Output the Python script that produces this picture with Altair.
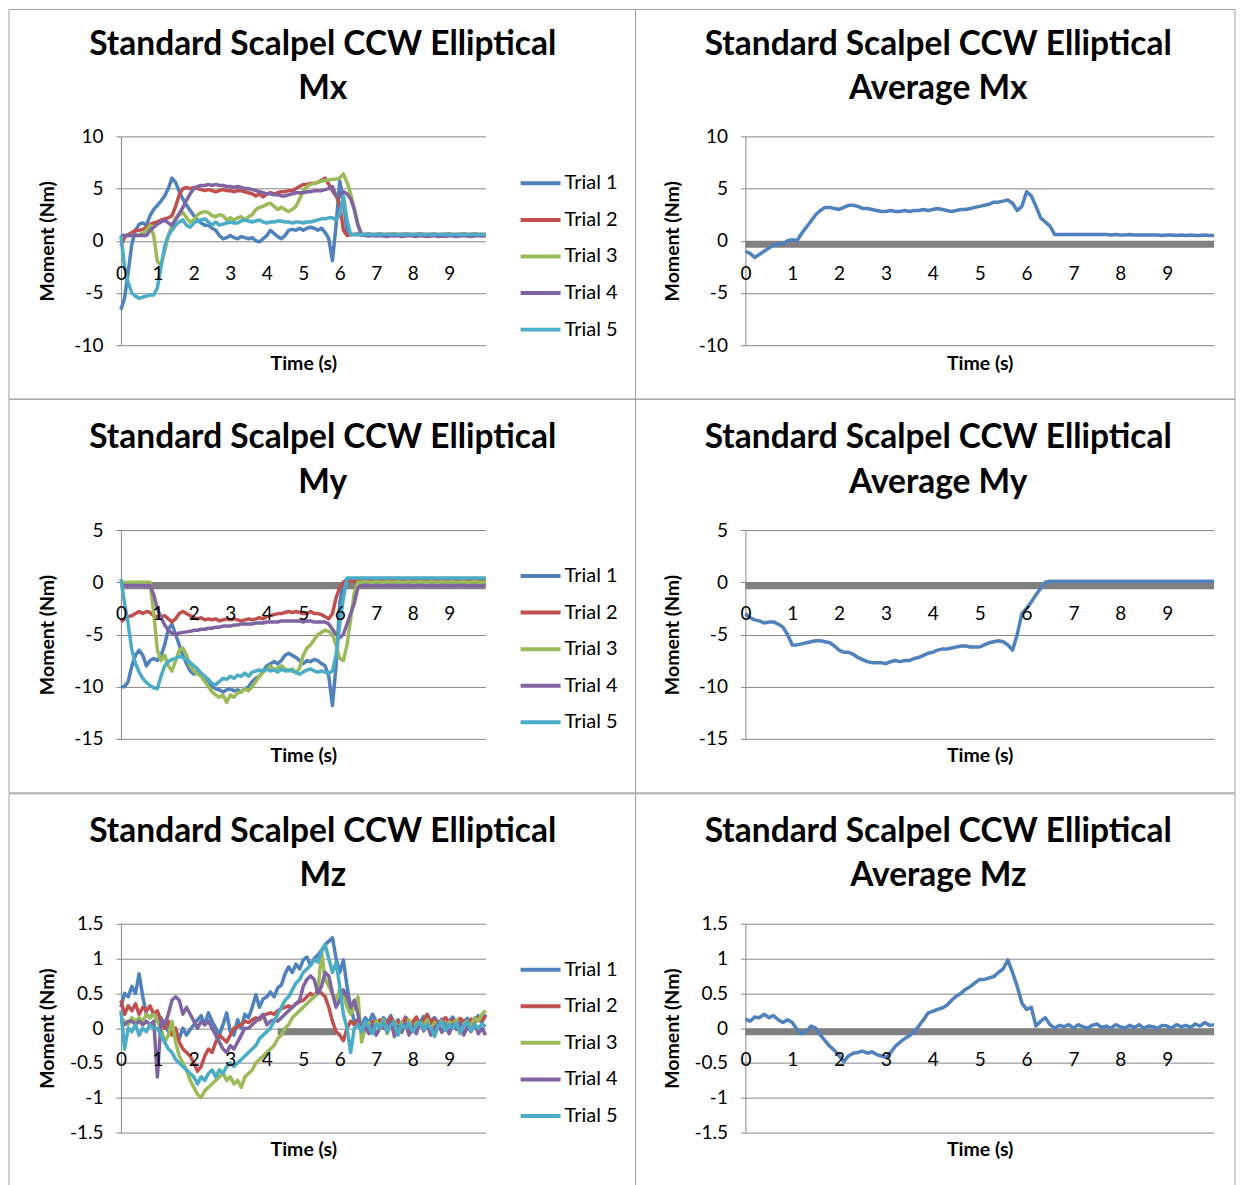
import altair as alt
import pandas as pd

FONT = "Lato"
GRID = "#868686"
BORDER = "#a0a0a0"
TRIALS = ["Trial 1", "Trial 2", "Trial 3", "Trial 4", "Trial 5"]
COLORS = ["#4F81BD", "#C0504D", "#9BBB59", "#8064A2", "#4BACC6"]
XTICKS = [0, 1, 2, 3, 4, 5, 6, 7, 8, 9]
TIME = [round(i * 0.1, 1) for i in range(101)]

# ---------------- Mx ----------------
MX_T1 = [-6.6, -5.5, -3.0, -0.3, 1.0, 1.6, 1.7, 1.5, 2.4, 3.0,
         3.4, 3.8, 4.3, 5.0, 6.0, 5.6, 4.7, 4.0, 3.4, 2.9,
         2.4, 2.0, 1.7, 1.5, 1.5, 1.2, 1.0, 0.5, 0.2, 0.3,
         0.5, 0.3, 0.2, 0.4, 0.3, 0.2, 0.3, 0.0, -0.1, 0.2,
         0.5, 1.0, 0.7, 0.4, 0.2, 0.5, 1.0, 1.1, 1.0, 1.2,
         1.0, 1.2, 1.3, 1.2, 1.0, 1.2, 0.8, 0.2, -1.9, 1.5,
         5.7, 4.0, 0.8, 0.6, 0.6, 0.6, 0.55, 0.6, 0.6, 0.55,
         0.6, 0.6, 0.55, 0.6, 0.6, 0.6, 0.55, 0.6, 0.6, 0.6,
         0.55, 0.6, 0.6, 0.6, 0.55, 0.6, 0.6, 0.55, 0.6, 0.6,
         0.6, 0.55, 0.6, 0.6, 0.6, 0.55, 0.6, 0.6, 0.6, 0.55,
         0.6]
MX_T2 = [-0.5, 0.3, 0.6, 0.8, 1.0, 1.0, 1.1, 1.3, 1.6, 1.7,
         1.8, 2.0, 2.1, 2.2, 2.4, 3.3, 4.4, 5.0, 5.1, 5.0,
         5.1, 5.0, 4.9, 4.8, 4.9, 4.8, 4.7, 4.8, 4.9, 4.8,
         4.8, 4.7, 4.8, 4.8, 4.7, 4.6, 4.5, 4.3, 4.5, 4.2,
         4.5, 4.6, 4.5, 4.6, 4.7, 4.7, 4.8, 4.8, 5.0, 5.2,
         5.4, 5.4, 5.5, 5.5, 5.6, 5.8, 6.0, 5.4, 4.8, 4.3,
         3.5, 1.0, 0.5, 0.6, 0.6, 0.65, 0.6, 0.6, 0.65, 0.6,
         0.6, 0.65, 0.6, 0.6, 0.6, 0.65, 0.6, 0.6, 0.65, 0.6,
         0.6, 0.6, 0.65, 0.6, 0.6, 0.6, 0.65, 0.6, 0.6, 0.6,
         0.65, 0.6, 0.6, 0.6, 0.65, 0.6, 0.6, 0.65, 0.6, 0.6,
         0.6]
MX_T3 = [0.5, 0.5, 0.5, 0.5, 0.5, 0.6, 0.7, 1.0, 1.5, 0.5,
         -2.0, -2.3, -1.0, 0.5, 1.5, 2.2, 2.5, 2.7, 2.2, 1.8,
         2.0, 2.5, 2.7, 2.8, 2.7, 2.4, 2.3, 2.5, 2.4, 2.0,
         2.2, 2.0, 2.2, 2.3, 2.0, 2.3, 2.5, 3.0, 3.2, 3.3,
         3.5, 3.6, 3.3, 3.0, 3.2, 3.0, 2.8, 3.0, 3.3, 4.0,
         4.8, 5.2, 5.4, 5.5, 5.6, 5.7, 5.8, 5.8, 5.9, 5.9,
         6.0, 6.4, 5.6, 4.5, 3.0, 1.5, 0.6, 0.6, 0.6, 0.55,
         0.6, 0.6, 0.6, 0.55, 0.6, 0.6, 0.6, 0.6, 0.55, 0.6,
         0.6, 0.6, 0.55, 0.6, 0.6, 0.6, 0.6, 0.55, 0.6, 0.6,
         0.6, 0.55, 0.6, 0.6, 0.6, 0.6, 0.55, 0.6, 0.6, 0.6,
         0.6]
MX_T4 = [0.5, 0.5, 0.5, 0.5, 0.5, 0.5, 0.5, 0.5, 1.0, 1.3,
         1.6, 1.8, 2.0, 1.7, 1.5, 2.0, 2.6, 3.2, 3.9, 4.5,
         5.0, 5.2, 5.3, 5.3, 5.4, 5.3, 5.4, 5.3, 5.3, 5.2,
         5.2, 5.1, 5.2, 5.1, 5.0, 5.0, 4.9, 4.8, 4.7, 4.6,
         4.5, 4.5, 4.4, 4.4, 4.3, 4.3, 4.4, 4.5, 4.6, 4.6,
         4.6, 4.7, 4.7, 4.8, 4.8, 4.8, 4.9, 5.0, 5.2, 4.3,
         4.2, 4.7, 4.5, 4.0, 3.0, 1.5, 0.6, 0.5, 0.45, 0.5,
         0.45, 0.5, 0.45, 0.4, 0.5, 0.45, 0.5, 0.4, 0.45, 0.5,
         0.45, 0.4, 0.5, 0.45, 0.4, 0.45, 0.5, 0.4, 0.45, 0.4,
         0.5, 0.45, 0.4, 0.45, 0.5, 0.45, 0.4, 0.45, 0.5, 0.45,
         0.45]
MX_T5 = [0.5, -2.5, -4.0, -5.0, -5.3, -5.5, -5.4, -5.3, -5.2, -5.2,
         -4.5, -2.5, -0.5, 0.5, 1.0, 1.5, 1.8, 2.0, 1.5, 1.3,
         1.7, 1.9, 2.0, 2.1, 1.8, 1.5, 1.8, 1.5, 1.6, 1.7,
         1.8, 1.7, 1.7, 1.9, 2.0, 1.9, 1.8, 1.9, 2.0, 1.8,
         1.7, 1.8, 1.8, 1.9, 1.9, 1.8, 1.8, 1.7, 1.8, 1.8,
         1.7, 1.8, 1.8, 1.9, 2.0, 2.1, 2.1, 2.2, 2.2, 2.0,
         2.5, 4.3, 2.0, 0.6, 0.6, 0.6, 0.6, 0.6, 0.6, 0.6,
         0.6, 0.6, 0.6, 0.6, 0.6, 0.6, 0.6, 0.6, 0.6, 0.6,
         0.6, 0.6, 0.6, 0.6, 0.6, 0.6, 0.6, 0.6, 0.6, 0.6,
         0.6, 0.6, 0.6, 0.6, 0.6, 0.6, 0.6, 0.6, 0.6, 0.6,
         0.6]
MX_AVG = [-1.0, -1.2, -1.6, -1.3, -1.0, -0.7, -0.4, -0.3, -0.3, 0.0,
          0.1, 0.0, 0.7, 1.3, 1.9, 2.5, 2.9, 3.2, 3.2, 3.1,
          3.0, 3.2, 3.4, 3.4, 3.3, 3.1, 3.1, 3.0, 2.9, 2.8,
          2.8, 2.9, 2.8, 2.8, 2.9, 2.8, 2.9, 2.9, 3.0, 2.9,
          3.0, 3.1, 3.0, 2.9, 2.8, 2.9, 3.0, 3.0, 3.1, 3.2,
          3.3, 3.4, 3.5, 3.7, 3.7, 3.8, 3.9, 3.6, 2.9, 3.3,
          4.7, 4.3, 3.3, 2.2, 1.8, 1.4, 0.6, 0.6, 0.6, 0.6,
          0.6, 0.6, 0.6, 0.6, 0.6, 0.6, 0.6, 0.6, 0.55, 0.6,
          0.55, 0.55, 0.6, 0.55, 0.55, 0.55, 0.55, 0.55, 0.55, 0.5,
          0.55, 0.55, 0.5, 0.55, 0.5, 0.55, 0.5, 0.5, 0.55, 0.5,
          0.5]

# ---------------- My ----------------
MY_T1 = [-10.0, -10.0, -9.5, -8.0, -7.0, -6.5, -7.0, -8.0, -7.5, -7.3,
         -7.5, -7.0, -6.0, -4.5, -4.0, -5.0, -6.0, -7.0, -7.8, -8.5,
         -8.8, -8.5, -9.0, -9.3, -9.5, -10.0, -10.2, -10.3, -10.5, -10.3,
         -10.2, -10.4, -10.3, -10.5, -10.2, -10.0, -9.5, -9.2, -9.0, -8.5,
         -8.0, -7.8, -7.6, -7.8, -7.5, -7.0, -6.8, -7.0, -7.2, -7.5,
         -7.8, -7.5, -7.6, -7.4, -7.5, -7.8, -8.0, -9.0, -11.8, -8.0,
         -2.0, 0.0, 0.3, 0.3, 0.3, 0.3, 0.3, 0.3, 0.3, 0.3,
         0.3, 0.3, 0.3, 0.3, 0.3, 0.3, 0.3, 0.3, 0.3, 0.3,
         0.3, 0.3, 0.3, 0.3, 0.3, 0.3, 0.3, 0.3, 0.3, 0.3,
         0.3, 0.3, 0.3, 0.3, 0.3, 0.3, 0.3, 0.3, 0.3, 0.3,
         0.3]
MY_T2 = [-3.8, -3.5, -3.3, -3.2, -3.0, -2.8, -3.0, -2.8, -2.9, -3.2,
         -3.3, -3.3, -3.2, -3.5, -3.8, -3.5, -3.0, -2.8, -3.0, -3.2,
         -3.4, -3.5, -3.4, -3.6, -3.5, -3.6, -3.5, -3.7, -3.6, -3.5,
         -3.6, -3.5, -3.6, -3.7, -3.6, -3.5, -3.6, -3.5, -3.4, -3.5,
         -3.3, -3.2, -3.1, -3.0, -3.0, -2.9, -2.8, -2.9, -2.8, -2.9,
         -3.0, -3.0, -2.8, -3.0, -3.0, -3.1, -3.3, -3.5, -3.0, -1.5,
         -0.5, 0.0, 0.15, 0.15, 0.1, 0.15, 0.15, 0.1, 0.15, 0.15,
         0.1, 0.15, 0.15, 0.1, 0.15, 0.15, 0.1, 0.15, 0.15, 0.1,
         0.15, 0.15, 0.1, 0.15, 0.15, 0.1, 0.15, 0.15, 0.1, 0.15,
         0.15, 0.1, 0.15, 0.15, 0.1, 0.15, 0.15, 0.2, 0.15, 0.2,
         0.2]
MY_T3 = [0.0, 0.0, 0.0, 0.0, 0.0, 0.0, 0.0, 0.0, 0.0, -3.0,
         -6.5, -7.5, -7.0, -8.0, -8.5, -7.5, -6.5, -6.3, -7.0, -8.0,
         -8.5, -8.8, -9.0, -9.5, -10.0, -10.5, -10.8, -11.0, -10.8, -11.5,
         -10.8, -11.0, -10.6, -10.5, -10.2, -10.4, -10.0, -9.5, -9.0, -8.6,
         -8.3, -8.0, -8.4, -8.2, -8.0, -8.3, -8.5, -8.3, -8.7, -8.2,
         -7.0, -6.3, -6.0, -5.5, -5.0, -4.8, -4.6, -4.7, -5.0, -6.0,
         -7.3, -7.5, -6.0, -3.5, -1.0, 0.0, 0.0, 0.05, 0.0, 0.0,
         0.05, 0.0, 0.0, 0.05, 0.0, 0.0, 0.05, 0.0, 0.0, 0.05,
         0.0, 0.0, 0.05, 0.0, 0.0, 0.05, 0.0, 0.0, 0.05, 0.0,
         0.0, 0.05, 0.0, 0.0, 0.05, 0.0, 0.0, 0.05, 0.0, 0.0,
         0.0]
MY_T4 = [-0.3, -0.3, -0.3, -0.3, -0.3, -0.3, -0.3, -0.3, -0.3, -1.2,
         -2.5, -3.4, -4.1, -4.6, -4.9, -5.0, -4.85, -4.8, -4.75, -4.7,
         -4.6, -4.6, -4.5, -4.5, -4.4, -4.4, -4.3, -4.3, -4.2, -4.2,
         -4.2, -4.1, -4.1, -4.0, -4.0, -4.0, -4.0, -3.9, -3.9, -3.9,
         -3.8, -3.8, -3.8, -3.8, -3.7, -3.7, -3.7, -3.7, -3.7, -3.7,
         -3.8, -3.7, -3.7, -3.8, -3.8, -3.8, -3.8, -4.0, -4.5, -5.0,
         -5.3, -5.0, -4.0, -3.0, -2.0, -0.5, -0.3, -0.3, -0.3, -0.35,
         -0.3, -0.3, -0.35, -0.3, -0.3, -0.3, -0.35, -0.3, -0.3, -0.3,
         -0.35, -0.3, -0.3, -0.3, -0.35, -0.3, -0.3, -0.35, -0.3, -0.3,
         -0.3, -0.35, -0.3, -0.3, -0.3, -0.35, -0.3, -0.3, -0.35, -0.3,
         -0.3]
MY_T5 = [0.3, -2.0, -4.0, -6.5, -7.8, -8.6, -9.2, -9.6, -9.9, -10.1,
         -10.2, -9.0, -8.0, -7.6, -7.4, -7.3, -7.1, -7.2, -7.4, -7.7,
         -8.0, -8.3, -8.7, -9.0, -9.3, -9.7, -9.8, -9.5, -9.2, -9.3,
         -9.0, -9.2, -8.9, -9.0, -8.7, -9.0, -8.6, -8.5, -8.4, -8.5,
         -8.3, -8.5, -8.4, -8.6, -8.3, -8.5, -8.4, -8.5, -8.6, -8.8,
         -8.6, -8.4, -8.3, -8.5, -8.6, -8.5, -8.6, -8.7, -8.5, -7.0,
         -4.0, -1.5, 0.4, 0.4, 0.4, 0.4, 0.4, 0.4, 0.4, 0.4,
         0.4, 0.4, 0.4, 0.4, 0.4, 0.4, 0.4, 0.4, 0.4, 0.4,
         0.4, 0.4, 0.4, 0.4, 0.4, 0.4, 0.4, 0.4, 0.4, 0.4,
         0.4, 0.4, 0.4, 0.4, 0.4, 0.4, 0.4, 0.4, 0.4, 0.4,
         0.4]
MY_AVG = [-3.0, -3.4, -3.6, -3.7, -3.9, -3.8, -3.8, -4.0, -4.3, -5.0,
          -6.0, -6.0, -5.9, -5.8, -5.7, -5.6, -5.6, -5.7, -5.8, -6.1,
          -6.5, -6.7, -6.7, -6.9, -7.2, -7.4, -7.6, -7.7, -7.7, -7.7,
          -7.8, -7.6, -7.5, -7.6, -7.5, -7.5, -7.3, -7.2, -7.0, -6.8,
          -6.7, -6.5, -6.4, -6.4, -6.3, -6.2, -6.1, -6.1, -6.2, -6.2,
          -6.2, -6.0, -5.8, -5.7, -5.6, -5.7, -6.0, -6.5, -5.0, -3.0,
          -2.5, -1.9, -1.2, -0.6, 0.0, 0.1, 0.1, 0.1, 0.1, 0.1,
          0.1, 0.1, 0.1, 0.1, 0.1, 0.1, 0.1, 0.1, 0.1, 0.1,
          0.1, 0.1, 0.1, 0.1, 0.1, 0.1, 0.1, 0.1, 0.1, 0.1,
          0.1, 0.1, 0.1, 0.1, 0.1, 0.1, 0.1, 0.1, 0.1, 0.1,
          0.1]

# ---------------- Mz ----------------
MZ_T1 = [0.3, 0.5, 0.45, 0.6, 0.5, 0.78, 0.45, 0.2, 0.15, 0.22,
         0.1, 0.15, 0.05, -0.05, 0.02, -0.1, -0.15, 0.0, -0.1, -0.02,
         0.05, 0.12, 0.18, 0.05, 0.22, 0.1, 0.0, -0.1, 0.05, 0.22,
         -0.05, -0.1, 0.12, 0.0, 0.2, 0.15, 0.3, 0.48, 0.3, 0.42,
         0.45, 0.52, 0.45, 0.58, 0.62, 0.78, 0.88, 0.8, 0.92, 0.85,
         0.98, 1.02, 0.9, 1.0, 1.05, 1.12, 1.2, 1.25, 1.3, 1.0,
         0.8, 0.98, 0.6, 0.3, 0.1, 0.12, 0.05, 0.15, 0.08, 0.2,
         0.1, 0.04, 0.15, 0.09, 0.18, 0.06, 0.12, 0.02, 0.16, 0.1,
         0.05, 0.14, 0.08, 0.17, 0.03, 0.11, 0.15, 0.07, 0.13, 0.04,
         0.1, 0.16, 0.06, 0.12, 0.09, 0.14, 0.05, 0.11, 0.18, 0.08,
         0.2]
MZ_T2 = [0.4, 0.2, 0.32, 0.25, 0.35, 0.2, 0.3, 0.25, 0.32, 0.2,
         0.25, 0.1, 0.0, 0.1, -0.1, 0.0, -0.2, -0.3, -0.35, -0.4,
         -0.5, -0.62, -0.55, -0.4, -0.3, -0.35, -0.2, -0.1, -0.15, -0.2,
         -0.1, 0.0, 0.02, 0.05, 0.1, 0.08, 0.12, 0.15, 0.12, 0.18,
         0.2, 0.22, 0.2, 0.25, 0.28, 0.3, 0.32, 0.3, 0.35, 0.38,
         0.4, 0.45, 0.5, 0.45, 0.55, 0.5, 0.45, 0.3, 0.1, -0.05,
         -0.1, -0.18, 0.0, 0.1, 0.05, 0.12, 0.02, 0.08, -0.05, 0.1,
         0.05, 0.12, 0.0, 0.08, 0.15, 0.03, 0.1, 0.06, 0.14, 0.02,
         0.09, 0.16, 0.05, 0.11, 0.2, 0.07, 0.13, 0.04, 0.1, 0.15,
         0.08, 0.12, 0.05, 0.14, 0.1, 0.06, 0.13, 0.09, 0.15, 0.11,
         0.18]
MZ_T3 = [0.15, 0.1, 0.05, 0.15, 0.1, 0.15, 0.1, 0.2, 0.15, 0.2,
         0.1, 0.0, -0.2, -0.1, 0.1, -0.2, -0.4, -0.5, -0.6, -0.75,
         -0.85, -0.95, -1.0, -0.9, -0.85, -0.8, -0.75, -0.7, -0.65, -0.75,
         -0.7, -0.8, -0.75, -0.85, -0.7, -0.65, -0.6, -0.5, -0.45, -0.4,
         -0.35, -0.3, -0.25, -0.15, -0.1, 0.0, 0.05, 0.15, 0.2, 0.25,
         0.3, 0.35, 0.4, 0.45, 0.5, 1.1, 0.7, 0.6, 0.5, 0.4,
         0.55, 0.5, 0.3, 0.2, 0.3, 0.45, -0.2, 0.0, 0.08, -0.05,
         0.1, 0.02, 0.12, -0.08, 0.06, 0.1, -0.02, 0.08, 0.0, 0.12,
         -0.05, 0.07, 0.1, 0.03, 0.12, -0.06, 0.08, 0.05, 0.1, -0.02,
         0.09, 0.04, 0.12, -0.08, 0.06, 0.1, 0.02, 0.15, 0.1, 0.2,
         0.25]
MZ_T4 = [0.1, 0.05, 0.1, 0.1, 0.05, 0.1, 0.05, 0.1, 0.05, 0.1,
         -0.7, 0.1, 0.05, 0.2, 0.4, 0.45, 0.4, 0.2, 0.3, 0.2,
         0.1, 0.0, 0.1, 0.05, 0.1, 0.0, -0.1, -0.2, -0.3, -0.35,
         -0.25, -0.3, -0.2, -0.1, 0.0, 0.0, 0.05, 0.1, 0.15, 0.2,
         0.05, 0.1, 0.12, 0.1, 0.15, 0.2, 0.25, 0.3, 0.35, 0.4,
         0.6, 0.7, 0.75, 0.7, 0.5, 0.6, 0.8, 0.75, 0.5, 0.3,
         0.4, 0.55, 0.45, 0.3, 0.4, 0.2, -0.05, 0.02, -0.08, 0.05,
         -0.1, 0.0, 0.06, -0.05, 0.1, -0.12, 0.03, -0.06, 0.08, -0.1,
         0.02, -0.08, 0.1, -0.04, 0.05, -0.1, 0.0, 0.07, -0.06, 0.03,
         -0.08, 0.05, -0.02, 0.08, -0.1, 0.02, -0.05, 0.06, -0.08, 0.0,
         -0.1]
MZ_T5 = [0.25, -0.3, 0.0, -0.05, 0.05, -0.1, 0.0, -0.05, 0.05, 0.0,
         0.0, -0.1, -0.2, -0.3, -0.35, -0.45, -0.5, -0.55, -0.6, -0.65,
         -0.7, -0.8, -0.7, -0.75, -0.65, -0.6, -0.7, -0.6, -0.65, -0.55,
         -0.5, -0.55, -0.5, -0.45, -0.4, -0.35, -0.3, -0.25, -0.15, -0.1,
         -0.05, 0.0, 0.1, 0.2, 0.3, 0.4, 0.45, 0.55, 0.65, 0.7,
         0.8, 0.85, 0.9, 0.98, 0.95, 1.1, 1.2, 1.0, 0.8, 0.95,
         0.6, 0.2, 0.0, -0.35, 0.0, 0.05, -0.05, 0.1, 0.02, -0.08,
         0.06, 0.0, 0.1, -0.05, 0.04, 0.08, -0.1, 0.05, 0.0, 0.07,
         -0.05, 0.03, 0.09, -0.02, 0.06, 0.0, -0.12, 0.04, 0.08, -0.03,
         0.05, 0.0, 0.07, -0.06, 0.03, 0.09, -0.04, 0.05, 0.0, 0.06,
         0.02]
MZ_AVG = [0.13, 0.1, 0.16, 0.15, 0.2, 0.15, 0.18, 0.12, 0.08, 0.12,
          0.08, -0.02, -0.08, -0.05, 0.03, 0.0, -0.1, -0.18, -0.26, -0.32,
          -0.4, -0.48, -0.4, -0.36, -0.35, -0.33, -0.36, -0.34, -0.38, -0.4,
          -0.42, -0.35, -0.26, -0.2, -0.15, -0.11, -0.05, 0.03, 0.12, 0.22,
          0.24, 0.27, 0.29, 0.33, 0.4, 0.46, 0.5, 0.56, 0.6, 0.65,
          0.7, 0.7, 0.72, 0.74, 0.8, 0.85, 0.98, 0.8, 0.6, 0.36,
          0.27, 0.3, 0.03, 0.1, 0.15, 0.05, 0.0, 0.04, 0.02, 0.05,
          0.0, 0.05, 0.02, 0.0, 0.04, 0.06, 0.01, 0.03, 0.0, 0.05,
          0.02, 0.0, 0.04, 0.01, 0.05, 0.0, 0.03, 0.02, 0.0, 0.04,
          0.03, 0.0, 0.05, 0.02, 0.04, 0.01, 0.06, 0.03, 0.08, 0.04,
          0.05]

TITLE1 = "Standard Scalpel CCW Elliptical"
H = 209
W_LEFT = 365
W_RIGHT = 469
DUMMY = pd.DataFrame({"d": [0]})
TITLE_SIZE = 33.5
TICK_SIZE = 19
AXIS_TITLE_SIZE = 19.5


def long_df(names, series):
    rows = []
    for name, vals in zip(names, series):
        assert len(vals) == len(TIME), (name, len(vals))
        for t, v in zip(TIME, vals):
            rows.append({"t": t, "v": v, "s": name})
    return pd.DataFrame(rows)


def panel(names, series, title2, ydom, yticks, band, width, label_y, xtitle_y,
          title_x, title_y1, title_y2, border, legend_y=None, band_range=None):
    x_enc = alt.X(
        "t:Q",
        scale=alt.Scale(domain=[0, 10], nice=False, zero=False),
        axis=alt.Axis(values=XTICKS, grid=False, domain=False, ticks=False, tickSize=0,
                      labelPadding=0, labelBaseline="middle", labelFontSize=TICK_SIZE,
                      labelFlush=False, labelOverlap=False, offset=label_y - H,
                      title="Time (s)", titleY=xtitle_y - label_y, titleBaseline="middle",
                      titleFontSize=AXIS_TITLE_SIZE, titleFontWeight="bold", zindex=1),
    )
    y_enc = alt.Y(
        "v:Q",
        scale=alt.Scale(domain=ydom, nice=False, zero=False),
        axis=alt.Axis(values=yticks, grid=True, gridColor=GRID, gridWidth=1,
                      domainColor=GRID, tickColor=GRID, tickSize=5, labelPadding=13,
                      labelExpr="'' + datum.value", labelFontSize=TICK_SIZE,
                      title="Moment (Nm)", titleX=-73, titleY=H / 2, titleAngle=270,
                      titleAlign="center", titleBaseline="middle",
                      titleFontWeight="bold", titleFontSize=AXIS_TITLE_SIZE),
    )
    bx1, bx2, by1, by2 = border
    frame = alt.Chart(DUMMY).mark_rect(fillOpacity=0, stroke=BORDER, strokeWidth=1).encode(
        x=alt.value(bx1), x2=alt.value(bx2), y=alt.value(by1), y2=alt.value(by2))
    t1 = alt.Chart(DUMMY).mark_text(font=FONT, fontSize=TITLE_SIZE, fontWeight="bold",
                                    color="#000", align="center", baseline="middle").encode(
        x=alt.value(title_x), y=alt.value(title_y1), text=alt.value(TITLE1))
    t2 = alt.Chart(DUMMY).mark_text(font=FONT, fontSize=TITLE_SIZE, fontWeight="bold",
                                    color="#000", align="center", baseline="middle").encode(
        x=alt.value(title_x), y=alt.value(title_y2), text=alt.value(title2))
    layers = [frame, t1, t2]
    if band:
        if band_range is None:
            layers.append(alt.Chart(pd.DataFrame({"v": [0]})).mark_rule(
                color="#808080", strokeWidth=7, yOffset=3.5).encode(y=y_enc))
        else:
            bdf = pd.DataFrame({"t": [band_range[0]], "t2": [band_range[1]], "v": [0]})
            layers.append(alt.Chart(bdf).mark_rule(
                color="#808080", strokeWidth=7, yOffset=3.5).encode(
                x=x_enc, x2="t2:Q", y=y_enc))
    df = long_df(names, series)
    if len(names) > 1:
        color = alt.Color("s:N", scale=alt.Scale(domain=names, range=COLORS),
                          legend=alt.Legend(title=None, orient="none", legendX=width + 33,
                                            legendY=legend_y, symbolType="stroke",
                                            symbolSize=1600, symbolStrokeWidth=4,
                                            labelFontSize=20, labelOffset=2,
                                            rowPadding=4.6, padding=0))
    else:
        color = alt.Color("s:N", scale=alt.Scale(domain=names, range=[COLORS[0]]), legend=None)
    lines = alt.Chart(df).mark_line(strokeWidth=3.5, strokeJoin="round").encode(
        x=x_enc, y=y_enc, color=color, order="t:Q")
    layers.append(lines)
    return alt.layer(*layers).properties(width=width, height=H)


p1 = panel(TRIALS, [MX_T1, MX_T2, MX_T3, MX_T4, MX_T5], "Mx", [-10, 10], [-10, -5, 0, 5, 10],
           False, W_LEFT, 137, 227, 202, -91, -47, (-112, 515, -127, 263), legend_y=25)
p2 = panel(["Average"], [MX_AVG], "Average Mx", [-10, 10], [-10, -5, 0, 5, 10],
           True, W_RIGHT, 137, 227, 193, -91, -47, (-110, 490, -127, 263))
p3 = panel(TRIALS, [MY_T1, MY_T2, MY_T3, MY_T4, MY_T5], "My", [-15, 5], [-15, -10, -5, 0, 5],
           True, W_LEFT, 84, 226, 202, -92, -47, (-112, 515, -131, 263), legend_y=24)
p4 = panel(["Average"], [MY_AVG], "Average My", [-15, 5], [-15, -10, -5, 0, 5],
           True, W_RIGHT, 84, 226, 193, -92, -47, (-110, 490, -131, 263))
p5 = panel(TRIALS, [MZ_T1, MZ_T2, MZ_T3, MZ_T4, MZ_T5], "Mz", [-1.5, 1.5],
           [-1.5, -1, -0.5, 0, 0.5, 1, 1.5],
           True, W_LEFT, 136, 226, 202, -92, -48, (-112, 515, -130, 275), legend_y=24,
           band_range=(4.3, 5.9))
p6 = panel(["Average"], [MZ_AVG], "Average Mz", [-1.5, 1.5],
           [-1.5, -1, -0.5, 0, 0.5, 1, 1.5],
           True, W_RIGHT, 136, 226, 193, -92, -48, (-110, 490, -130, 275))

chart = alt.concat(p1, p2, p3, p4, p5, p6, columns=2,
                   spacing={"row": 185, "column": 260}, bounds="flush").resolve_scale(
    color="independent"
).resolve_legend(color="independent").properties(
    padding=0, background="white"
).configure_view(stroke=None).configure_axis(
    labelFont=FONT, titleFont=FONT, labelColor="#000", titleColor="#000"
).configure_legend(labelFont=FONT, labelColor="#000")

chart.save("out.html", embed_options={"renderer": "svg", "actions": False})
